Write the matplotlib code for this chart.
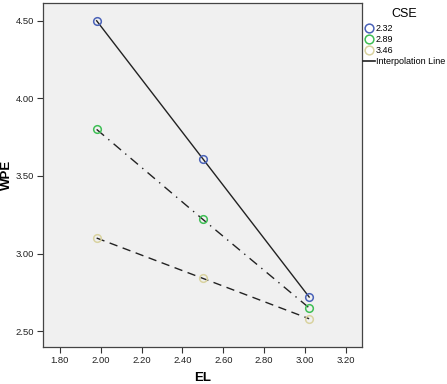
import matplotlib.pyplot as plt
from matplotlib.lines import Line2D

plt.rcParams['font.family'] = ['Liberation Sans', 'DejaVu Sans']

# data
el = [1.98, 2.50, 3.02]
cse_labels = ['2.32', '2.89', '3.46']
wpe_low = [4.50, 3.61, 2.72]
wpe_mid = [3.80, 3.22, 2.65]
wpe_high = [3.10, 2.84, 2.58]
x_ticks = [1.80, 2.00, 2.20, 2.40, 2.60, 2.80, 3.00, 3.20]
y_ticks = [2.50, 3.00, 3.50, 4.00, 4.50]

colors = ['#4a62b8', '#3fbf55', '#d9d3a0']
styles = ['-', (0, (7, 4, 1, 4)), (0, (6, 4))]


def main():
    fig = plt.figure(figsize=(4.47, 3.84), dpi=100)
    ax = fig.add_axes([0.096, 0.096, 0.714, 0.896])
    ax.set_facecolor('#f0f0f0')

    series = [wpe_low, wpe_mid, wpe_high]
    for vals, c, ls in zip(series, colors, styles):
        ax.plot(el, vals, color='#222222', lw=1.0, linestyle=ls, zorder=2)
        ax.plot(el, vals, linestyle='none', marker='o', ms=5.5,
                markerfacecolor='none', markeredgecolor=c, mew=1.1, zorder=3)

    ax.set_xlim(1.717, 3.279)
    ax.set_ylim(2.397, 4.614)
    ax.set_xticks(x_ticks)
    ax.set_yticks(y_ticks)
    ax.set_xticklabels(['%.2f' % v for v in x_ticks])
    ax.set_yticklabels(['%.2f' % v for v in y_ticks])
    ax.tick_params(labelsize=6.8, length=4, width=0.8, pad=2.5,
                   color='#333333', labelcolor='#222222')
    for s in ax.spines.values():
        s.set_color('#444444')
        s.set_linewidth(0.9)

    ax.set_xlabel('EL', fontsize=9.5, fontweight='bold')
    ax.set_ylabel('WPE', fontsize=9.5, fontweight='bold')
    ax.xaxis.set_label_coords(0.5, -0.072)
    ax.yaxis.set_label_coords(-0.094, 0.5)

    handles = [Line2D([], [], linestyle='none', marker='o', ms=6.3,
                      markerfacecolor='none', markeredgecolor=c, mew=1.1)
               for c in colors]
    handles.append(Line2D([], [], color='#222222', lw=1.2))
    labels = cse_labels + ['Interpolation Line']
    leg = ax.legend(handles, labels, title='CSE', loc='upper left',
                    bbox_to_anchor=(0.998, 0.992), frameon=False, fontsize=6.5,
                    title_fontsize=9, handlelength=1.3, handletextpad=0.1,
                    labelspacing=0.22, borderaxespad=0.0, borderpad=0.2)
    leg._legend_box.align = 'center'
    leg._legend_box.sep = 3

    fig.savefig('out.png', dpi=100)


if __name__ == '__main__':
    main()
